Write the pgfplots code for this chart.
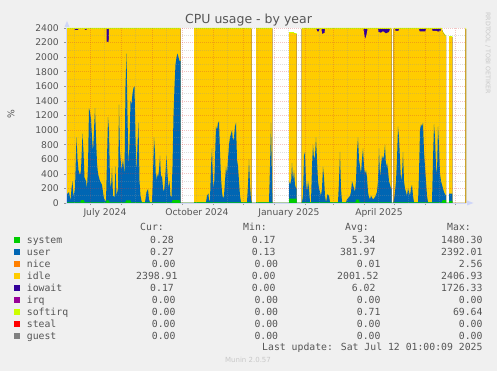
\documentclass[border=0pt]{standalone}
\usepackage{pgfplots}
\pgfplotsset{compat=1.18}
\usepackage{pgfplotstable}
\usepackage{fontspec}
\setmainfont{DejaVu Sans}
\newfontfamily\mono{DejaVu Sans Mono}
\definecolor{bgc}{HTML}{F0F0F0}
\definecolor{fontc}{HTML}{555555}
\definecolor{axc}{HTML}{CFD6F8}
\definecolor{wmc}{HTML}{C8C8C8}
\definecolor{csys}{HTML}{00CC00}
\definecolor{cuser}{HTML}{0066B3}
\definecolor{cnice}{HTML}{FF8000}
\definecolor{cidle}{HTML}{FFCC00}
\definecolor{ciow}{HTML}{330099}
\definecolor{cirq}{HTML}{990099}
\definecolor{csoft}{HTML}{CCFF00}
\definecolor{csteal}{HTML}{FF0000}
\definecolor{cguest}{HTML}{808080}
\definecolor{mgrid}{RGB}{210,60,60}
\definecolor{ngrid}{RGB}{150,150,150}

% total height of stack (top incl. softirq); 0 = no data
\pgfplotstableread{
x y
66 2400
180.7 2400
180.7 0
194 0
194 2400
251.7 2400
251.7 0
256 0
256 2400
272.3 2400
272.3 0
289 0
289 2345
294 2345
294 2330
296.7 2330
296.7 0
301.7 0
301.7 2400
391.7 2400
391.7 0
393.3 0
393.3 2400
441.7 2400
443 2350
444 2330
445 2310
446 2300
446 0
449 0
449 2290
452.3 2290
452.3 0
465.3 0
465.3 2400
466 2400
}\tabT

% top of iowait (total minus softirq)
\pgfplotstableread{
x y
66 2385
180.7 2385
180.7 0
194 0
194 2385
251.7 2385
251.7 0
256 0
256 2385
272.3 2385
272.3 0
289 0
289 2330
294 2330
294 2315
296.7 2315
296.7 0
301.7 0
301.7 2385
391.7 2385
391.7 0
393.3 0
393.3 2385
441.7 2385
443 2335
444 2315
445 2295
446 2285
446 0
449 0
449 2275
452.3 2275
452.3 0
465.3 0
465.3 2385
466 2385
}\tabW

% top of idle (system+user+nice+idle)
\pgfplotstableread{
x y
66 2385
74.5 2385
75 2372
78 2372
78.5 2385
84.5 2385
85 2375
86.5 2375
87 2385
106.5 2385
106.7 2210
108.7 2210
109 2385
180.7 2385
180.7 0
194 0
194 2385
251.7 2385
251.7 0
256 0
256 2385
272.3 2385
272.3 0
289 0
289 2330
294 2330
294 2315
296.7 2315
296.7 0
301.7 0
301.7 2385
316.5 2385
317 2355
319 2355
319.5 2385
321.5 2385
322 2320
324.5 2330
325 2385
363.5 2385
364 2330
365 2250
366 2280
367 2340
367.5 2385
378 2385
378.5 2345
381 2335
383 2355
386 2325
389 2345
390 2385
391.7 2385
391.7 0
393.3 0
393.3 2385
395 2385
395.5 2360
398.5 2360
399 2385
419 2385
419.5 2355
425.5 2355
426 2385
432 2385
432.5 2360
436 2362
438 2350
440.5 2358
441 2385
441.7 2385
443 2335
444 2315
445 2295
446 2285
446 0
449 0
449 2275
452.3 2275
452.3 0
465.3 0
465.3 2385
466 2385
}\tabI

% top of user (system+user)
\pgfplotstableread{
x y
66 10
67 120
69 150
70.5 30
71.5 200
72.5 300
73.5 80
75 200
76.5 900
77.5 600
78.5 450
80 380
81 450
82.5 950
83.5 700
84.5 350
86 300
87 200
88 500
89 1300
90 1250
91 1150
92 900
93 700
94 1000
95 1300
96 900
97 550
98 400
100 300
102 250
103 150
104 60
106 20
107 600
108 1180
109 1000
110 300
111 200
112 480
113 100
114.5 80
115.5 500
116.5 100
118 200
119 1350
120 700
121.5 450
123 600
124.5 400
125.5 1600
126.5 2050
127.5 1200
128.5 500
129.5 800
130.5 1400
131.5 1350
132.5 1500
133.5 1580
134.5 1600
135.5 900
136.5 400
137.5 800
138.5 1100
139.5 300
140.5 100
141.5 30
142 10
145 10
146.5 150
148 190
149 50
150 10
152 10
153 400
154 900
155 700
156 300
157 400
158 350
159 450
160 650
161 350
162 380
163 200
164 150
165 300
166.5 650
167.5 400
168.5 200
169.5 300
170.5 100
171.5 80
172.5 500
173.5 1200
174.5 1600
175.5 1900
176.5 2000
177.5 2050
178.5 2000
179.5 1950
180.7 1950
180.7 0
194 0
194 10
206 10
207 100
208.5 130
209 20
210 50
211 500
212 750
213 300
214 200
215 600
216 1050
217 1000
218 1100
219 1120
220 700
221 350
222 150
223 60
224 100
225 300
226 500
227 400
228 600
229 800
230 900
231 950
232 1000
233 850
234 900
235 1050
236 1100
237 600
238 500
239 300
240 100
241 10
247 10
248 250
249 600
250 250
251 50
251.7 10
251.7 0
256 0
256 10
269 10
270 500
271 1100
272 300
272.3 100
272.3 0
289 0
289 250
290 300
291 250
292 550
293 300
294 450
295 250
296 200
296.7 200
296.7 0
301.7 0
302 10
303 100
304 650
305 700
306 300
307 150
308 300
309 200
310 10
311 10
312 500
313 800
314 600
315 650
316 900
317 600
318 300
319 200
320 150
321 100
322 200
323 500
324 350
325 100
326 10
327.5 120
329 100
330 10
338 10
339 300
340 700
341 200
342 10
346 10
347 50
349 80
350 100
351 150
352 300
353 250
354 200
355 150
356 300
357 700
358 900
359 600
360 500
361 400
362 600
363 750
364 500
365 400
366 450
367 350
368 150
369 80
370 50
371 100
373 50
375 80
377 150
378 300
379 750
380 350
381 500
382 650
383 600
384 650
385 800
386 500
387 550
388 450
389 300
390 250
391 200
391.7 200
391.7 0
393.3 0
394 50
395 150
396 300
397 600
398 1050
399 900
400 600
401 300
402 400
403 700
404 300
405 200
406 150
407 100
408 200
409 150
410 100
411 200
412 250
413 100
414 10
418 10
419 400
420 1000
421 1080
422 1050
423 1100
424 700
425 500
426 300
427 100
428 10
432 10
433 600
434 1080
435 900
436 500
437 400
438 1050
439 800
440 400
441 300
442 250
443 200
444 150
445 120
446 100
446 0
449 0
449 130
452.3 130
452.3 0
}\tabU

% system
\pgfplotstableread{
x y
66 10
80.5 10
81 40
84 40
84.5 10
106 10
106.5 35
109 35
109.5 10
125.5 10
126 35
130.5 35
131 10
172 10
172.5 40
179.5 40
180 10
180.7 10
180.7 0
194 0
194 10
251.7 10
251.7 0
256 0
256 10
272.3 10
272.3 0
289 0
289 60
296.7 60
296.7 0
301.7 0
301.7 10
355.5 10
356 45
359 45
359.5 10
391.7 10
391.7 0
393.3 0
393.3 10
442 10
442.5 40
446 40
446 0
449 0
449 30
452.3 30
452.3 0
}\tabS

\begin{document}
\begin{tikzpicture}
\fill[bgc] (0,0) rectangle (497pt,371pt);
\begin{axis}[
  at={(66pt,168pt)}, anchor=south west,
  scale only axis, width=400pt, height=175pt,
  xmin=66, xmax=466, ymin=0, ymax=2400,
  axis on top,
  axis background/.style={fill=white},
  axis lines*=left,
  axis line style={draw=axc, line width=0.8pt},
  /pgf/number format/assume math mode=true,
  /pgf/number format/1000 sep={},
  ytick={0,200,...,2400},
  minor ytick={100,300,...,2300},
  yticklabel style={font=\fontsize{9.2}{11}\selectfont, text=fontc, anchor=east, inner sep=0pt, xshift=-5pt},
  xtick={89.96,120.96,151.96,181.96,212.96,242.96,273.96,304.96,332.96,363.96,393.96,424.96,454.96},
  xticklabels={},
  minor xtick={73.96,103.96,134.96,165.96,195.96,226.96,256.96,287.96,318.96,346.96,377.96,407.96,438.96},
  extra x ticks={104.96,196.96,288.96,378.96},
  extra x tick labels={July 2024,October 2024,January 2025,April 2025},
  extra x tick style={grid=none, major tick length=0pt,
     tick label style={font=\fontsize{9.2}{11}\selectfont, text=fontc, anchor=north, inner sep=0pt, yshift=-5pt}},
  tick align=outside,
  major tick length=2pt, minor tick length=0pt,
  tick style={color=ngrid, line width=0.5pt},
  grid=both,
  major grid style={dash pattern=on 1pt off 1pt, color=mgrid, opacity=0.3, line width=0.7pt},
  minor grid style={dash pattern=on 1pt off 1pt, color=ngrid, opacity=0.3, line width=0.7pt},
  clip=true,
]
\addplot[fill=csoft, draw=none] table[x=x,y=y] {\tabT} \closedcycle;
\addplot[fill=ciow, draw=none] table[x=x,y=y] {\tabW} \closedcycle;
\addplot[fill=cidle, draw=none] table[x=x,y=y] {\tabI} \closedcycle;
\addplot[fill=cuser, draw=none] table[x=x,y=y] {\tabU} \closedcycle;
\addplot[fill=csys, draw=none] table[x=x,y=y] {\tabS} \closedcycle;
\end{axis}
\begin{scope}[x=1pt,y=1pt]
% arrows
\fill[axc] (64.5,344) -- (69.5,344) -- (67,350) -- cycle;
\fill[axc] (467,165.5) -- (467,170.5) -- (473.5,168) -- cycle;
% title and labels
\node[anchor=base, text=fontc, font=\fontsize{12.5}{14}\selectfont, inner sep=0pt] at (248.5,347) {CPU usage - by year};
\node[rotate=90, text=fontc, font=\fontsize{9.2}{11}\selectfont, inner sep=0pt] at (11,257) {\%};
\node[rotate=-90, text=wmc, font=\fontsize{6.3}{7}\selectfont, inner sep=0pt] at (488,318) {RRDTOOL / TOBI OETIKER};
\node[text=wmc, font=\fontsize{7}{8}\selectfont, inner sep=0pt] at (248,11) {Munin 2.0.57};
% legend
\begin{scope}[every node/.style={inner sep=0pt, text=fontc, font=\mono\fontsize{9.8}{12}\selectfont}]
\node[anchor=base west] at (140,140.2) {Cur:};
\node[anchor=base west] at (243,140.2) {Min:};
\node[anchor=base west] at (345,140.2) {Avg:};
\node[anchor=base west] at (447,140.2) {Max:};
% swatches
\fill[csys]   (14,128) rectangle (20,134);
\fill[cuser]  (14,116.3) rectangle (20,122.3);
\fill[cnice]  (14,104.3) rectangle (20,110.3);
\fill[cidle]  (14,92.3) rectangle (20,98.3);
\fill[ciow]   (14,80.3) rectangle (20,86.3);
\fill[cirq]   (14,68.3) rectangle (20,74.3);
\fill[csoft]  (14,56.3) rectangle (20,62.3);
\fill[csteal] (14,44.3) rectangle (20,50.3);
\fill[cguest] (14,32.3) rectangle (20,38.3);
% names
\node[anchor=base west] at (26.7,127.4) {system};
\node[anchor=base west] at (26.7,115.7) {user};
\node[anchor=base west] at (26.7,103.7) {nice};
\node[anchor=base west] at (26.7,91.7) {idle};
\node[anchor=base west] at (26.7,79.7) {iowait};
\node[anchor=base west] at (26.7,67.7) {irq};
\node[anchor=base west] at (26.7,55.7) {softirq};
\node[anchor=base west] at (26.7,43.7) {steal};
\node[anchor=base west] at (26.7,31.7) {guest};
% Cur
\node[anchor=base east] at (174,127.4) {0.28};
\node[anchor=base east] at (174,115.7) {0.27};
\node[anchor=base east] at (175.7,103.7) {0.00};
\node[anchor=base east] at (177.7,91.7) {2398.91};
\node[anchor=base east] at (174,79.7) {0.17};
\node[anchor=base east] at (175.7,67.7) {0.00};
\node[anchor=base east] at (175.7,55.7) {0.00};
\node[anchor=base east] at (175.7,43.7) {0.00};
\node[anchor=base east] at (175.7,31.7) {0.00};
% Min
\node[anchor=base east] at (275.7,127.4) {0.17};
\node[anchor=base east] at (275.7,115.7) {0.13};
\node[anchor=base east] at (278.3,103.7) {0.00};
\node[anchor=base east] at (275.7,91.7) {0.00};
\node[anchor=base east] at (275.7,79.7) {0.00};
\node[anchor=base east] at (278.3,67.7) {0.00};
\node[anchor=base east] at (278.3,55.7) {0.00};
\node[anchor=base east] at (278.3,43.7) {0.00};
\node[anchor=base east] at (278.3,31.7) {0.00};
% Avg
\node[anchor=base east] at (375.7,127.4) {5.34};
\node[anchor=base east] at (375.7,115.7) {381.97};
\node[anchor=base east] at (380.7,103.7) {0.01};
\node[anchor=base east] at (378.7,91.7) {2001.52};
\node[anchor=base east] at (375.7,79.7) {6.02};
\node[anchor=base east] at (380.7,67.7) {0.00};
\node[anchor=base east] at (380.7,55.7) {0.71};
\node[anchor=base east] at (380.7,43.7) {0.00};
\node[anchor=base east] at (380.7,31.7) {0.00};
% Max
\node[anchor=base east] at (482.7,127.4) {1480.30};
\node[anchor=base east] at (482.7,115.7) {2392.01};
\node[anchor=base east] at (482.7,103.7) {2.56};
\node[anchor=base east] at (482.7,91.7) {2406.93};
\node[anchor=base east] at (482.7,79.7) {1726.33};
\node[anchor=base east] at (482.7,67.7) {0.00};
\node[anchor=base east] at (482.7,55.7) {69.64};
\node[anchor=base east] at (482.7,43.7) {0.00};
\node[anchor=base east] at (482.7,31.7) {0.00};
\node[anchor=base east] at (482.7,20.3) {Last update: Sat Jul 12 01:00:09 2025};
\end{scope}
\end{scope}
\pgfresetboundingbox
\path[use as bounding box] (0,0) rectangle (497pt,371pt);
\end{tikzpicture}
\end{document}
